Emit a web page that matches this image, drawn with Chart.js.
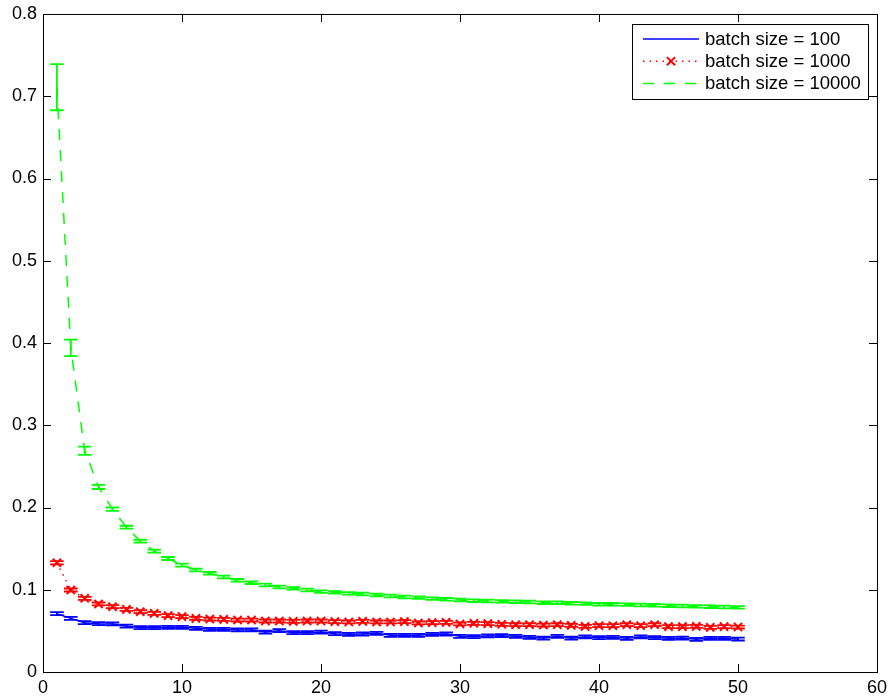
<!DOCTYPE html>
<html>
<head>
<meta charset="utf-8">
<title>batch size</title>
<script src="https://cdn.jsdelivr.net/npm/chart.js@4.4.1/dist/chart.umd.min.js"></script>
<style>
  body { margin: 0; background: #fff; }
  canvas { display: block; }
</style>
</head>
<body>
<canvas id="batch-canvas" width="891" height="698"></canvas>
<script>
const epochs = [1, 2, 3, 4, 5, 6, 7, 8, 9, 10, 11, 12, 13, 14, 15, 16, 17, 18, 19, 20,
  21, 22, 23, 24, 25, 26, 27, 28, 29, 30, 31, 32, 33, 34, 35, 36, 37, 38, 39, 40,
  41, 42, 43, 44, 45, 46, 47, 48, 49, 50]

const batch100 = [0.0709, 0.0652, 0.0600, 0.0588, 0.0584, 0.0559, 0.0539, 0.0539, 0.0543, 0.0543,
  0.0531, 0.0519, 0.0519, 0.0511, 0.0511, 0.0486, 0.0502, 0.0478, 0.0478, 0.0486,
  0.0466, 0.0458, 0.0462, 0.0470, 0.0446, 0.0446, 0.0446, 0.0458, 0.0462, 0.0434,
  0.0430, 0.0438, 0.0442, 0.0434, 0.0422, 0.0413, 0.0434, 0.0413, 0.0426, 0.0418,
  0.0422, 0.0409, 0.0426, 0.0418, 0.0409, 0.0413, 0.0397, 0.0409, 0.0409, 0.0401]
const err100 = [0.0018, 0.0018, 0.0018, 0.0018, 0.0018, 0.0018, 0.0018, 0.0018, 0.0018, 0.0018,
  0.0018, 0.0018, 0.0018, 0.0018, 0.0018, 0.0018, 0.0018, 0.0018, 0.0018, 0.0018,
  0.0018, 0.0018, 0.0018, 0.0018, 0.0018, 0.0018, 0.0018, 0.0018, 0.0018, 0.0018,
  0.0018, 0.0018, 0.0018, 0.0018, 0.0018, 0.0018, 0.0018, 0.0018, 0.0018, 0.0018,
  0.0018, 0.0018, 0.0018, 0.0018, 0.0018, 0.0018, 0.0018, 0.0018, 0.0018, 0.0018]

const batch1000 = [0.1329, 0.0997, 0.0896, 0.0827, 0.0794, 0.0762, 0.0733, 0.0713, 0.0685, 0.0673,
  0.0652, 0.0644, 0.0640, 0.0632, 0.0632, 0.0620, 0.0620, 0.0616, 0.0620, 0.0620,
  0.0612, 0.0608, 0.0616, 0.0608, 0.0608, 0.0612, 0.0596, 0.0600, 0.0604, 0.0584,
  0.0592, 0.0588, 0.0580, 0.0575, 0.0575, 0.0571, 0.0575, 0.0567, 0.0555, 0.0563,
  0.0563, 0.0575, 0.0563, 0.0575, 0.0551, 0.0551, 0.0555, 0.0543, 0.0551, 0.0547]
const err1000 = [0.0020, 0.0018, 0.0018, 0.0018, 0.0018, 0.0018, 0.0018, 0.0018, 0.0018, 0.0018,
  0.0018, 0.0018, 0.0018, 0.0018, 0.0018, 0.0018, 0.0018, 0.0018, 0.0018, 0.0018,
  0.0018, 0.0018, 0.0018, 0.0018, 0.0018, 0.0018, 0.0018, 0.0018, 0.0018, 0.0018,
  0.0018, 0.0018, 0.0018, 0.0018, 0.0018, 0.0018, 0.0018, 0.0018, 0.0018, 0.0018,
  0.0018, 0.0018, 0.0018, 0.0018, 0.0018, 0.0018, 0.0018, 0.0018, 0.0018, 0.0018]

const batch10000 = [0.711, 0.394, 0.269, 0.225, 0.198, 0.176, 0.159, 0.147, 0.138, 0.130,
  0.124, 0.120, 0.1155, 0.1115, 0.1086, 0.1058, 0.1033, 0.1017, 0.0997, 0.0977,
  0.0968, 0.0956, 0.0948, 0.0936, 0.0924, 0.0912, 0.0904, 0.0892, 0.0884, 0.0875,
  0.0867, 0.0863, 0.0859, 0.0855, 0.0851, 0.0843, 0.0843, 0.0835, 0.0831, 0.0823,
  0.0823, 0.0819, 0.0815, 0.0811, 0.0806, 0.0802, 0.0798, 0.0794, 0.0790, 0.0786]
const err10000 = [0.028, 0.010, 0.005, 0.0025, 0.002, 0.0018, 0.0018, 0.0018, 0.0018, 0.0018,
  0.0016, 0.0016, 0.0016, 0.0016, 0.0016, 0.0016, 0.0016, 0.0016, 0.0016, 0.0016,
  0.0016, 0.0016, 0.0016, 0.0016, 0.0016, 0.0016, 0.0016, 0.0016, 0.0016, 0.0016,
  0.0016, 0.0016, 0.0016, 0.0016, 0.0016, 0.0016, 0.0016, 0.0016, 0.0016, 0.0016,
  0.0016, 0.0016, 0.0016, 0.0016, 0.0016, 0.0016, 0.0016, 0.0016, 0.0016, 0.0016]

const seriesLabels = ['batch size = 100', 'batch size = 1000', 'batch size = 10000']

const FAMILY = "'Liberation Sans', Arial, sans-serif"
const TICK_FONT = { family: FAMILY, size: 18 }
const LEGEND_SIZE = 18.5
const capHalf = 0.49 // half width of error bar caps, x units
const tickLen = 8

const points = (vals) => vals.map((v, i) => ({ x: epochs[i], y: v }))

// error bars with caps, drawn in each dataset's colour
const errorBars = {
  id: 'errorBars',
  afterDatasetsDraw(chart) {
    const { ctx } = chart
    const x = chart.scales.x
    const y = chart.scales.y
    const a = chart.chartArea
    ctx.save()
    ctx.beginPath()
    ctx.rect(a.left, a.top, a.right - a.left, a.bottom - a.top)
    ctx.clip()
    chart.data.datasets.forEach((ds) => {
      ctx.strokeStyle = ds.borderColor
      ctx.lineWidth = 1.8
      ctx.setLineDash([])
      ctx.beginPath()
      ds.data.forEach((p, i) => {
        const e = ds.errors[i]
        const px = x.getPixelForValue(p.x)
        const lo = y.getPixelForValue(p.y - e)
        const hi = y.getPixelForValue(p.y + e)
        const l = x.getPixelForValue(p.x - capHalf)
        const r = x.getPixelForValue(p.x + capHalf)
        ctx.moveTo(px, lo)
        ctx.lineTo(px, hi)
        ctx.moveTo(l, lo)
        ctx.lineTo(r, lo)
        ctx.moveTo(l, hi)
        ctx.lineTo(r, hi)
      })
      ctx.stroke()
    })
    ctx.restore()
  },
}

// matlab style box with inward ticks on all four sides, plus the legend
const boxAxes = {
  id: 'boxAxes',
  afterDraw(chart) {
    const { ctx } = chart
    const a = chart.chartArea
    const x = chart.scales.x
    const y = chart.scales.y
    ctx.save()
    ctx.strokeStyle = '#000'
    ctx.lineWidth = 1
    ctx.setLineDash([])
    ctx.beginPath()
    x.ticks.forEach((t) => {
      const px = Math.round(x.getPixelForValue(t.value)) + 0.5
      ctx.moveTo(px, a.bottom)
      ctx.lineTo(px, a.bottom - tickLen)
      ctx.moveTo(px, a.top)
      ctx.lineTo(px, a.top + tickLen)
    })
    y.ticks.forEach((t) => {
      const py = Math.round(y.getPixelForValue(t.value)) + 0.5
      ctx.moveTo(a.left, py)
      ctx.lineTo(a.left + tickLen, py)
      ctx.moveTo(a.right, py)
      ctx.lineTo(a.right - tickLen, py)
    })
    ctx.stroke()
    ctx.strokeRect(Math.round(a.left) + 0.5, Math.round(a.top) + 0.5,
      Math.round(a.right - a.left), Math.round(a.bottom - a.top))

    // legend
    ctx.font = LEGEND_SIZE + 'px ' + FAMILY
    const textW = Math.max(...chart.data.datasets.map((d) => ctx.measureText(d.label).width))
    const sampleW = 56
    const rowH = 22.2
    const boxR = Math.round(a.right) - 9
    const boxT = Math.round(a.top) + 10
    const boxW = Math.round(11 + sampleW + 6 + textW + 7)
    const boxH = 75
    const boxL = boxR - boxW
    ctx.fillStyle = '#fff'
    ctx.fillRect(boxL, boxT, boxW, boxH)
    ctx.strokeRect(boxL + 0.5, boxT + 0.5, boxW, boxH)
    chart.data.datasets.forEach((d, i) => {
      const cy = boxT + 15 + i * rowH
      const sx = boxL + 11
      ctx.strokeStyle = d.borderColor
      ctx.lineWidth = d.borderWidth
      ctx.setLineDash(d.borderDash || [])
      ctx.beginPath()
      ctx.moveTo(sx, cy)
      ctx.lineTo(sx + sampleW, cy)
      ctx.stroke()
      ctx.setLineDash([])
      if (d.pointRadius > 0) {
        const mx = sx + sampleW / 2
        const m = d.pointRadius * Math.SQRT1_2
        ctx.lineWidth = d.pointBorderWidth
        ctx.beginPath()
        ctx.moveTo(mx - m, cy - m)
        ctx.lineTo(mx + m, cy + m)
        ctx.moveTo(mx - m, cy + m)
        ctx.lineTo(mx + m, cy - m)
        ctx.stroke()
      }
      ctx.fillStyle = '#000'
      ctx.textBaseline = 'middle'
      ctx.textAlign = 'left'
      ctx.fillText(d.label, sx + sampleW + 6, cy + 1)
    })
    ctx.restore()
  },
}

const batchChart = new Chart(document.getElementById('batch-canvas'), {
  type: 'line',
  data: {
    datasets: [
      {
        label: seriesLabels[0],
        data: points(batch100),
        errors: err100,
        borderColor: '#0000ff',
        borderWidth: 1.5,
        pointRadius: 0,
        tension: 0,
        fill: false,
      },
      {
        label: seriesLabels[1],
        data: points(batch1000),
        errors: err1000,
        borderColor: '#ff0000',
        borderWidth: 1.5,
        borderDash: [1.5, 5],
        pointStyle: 'crossRot',
        pointRadius: 5.8,
        pointBorderColor: '#ff0000',
        pointBorderWidth: 2,
        pointHoverRadius: 5.8,
        tension: 0,
        fill: false,
      },
      {
        label: seriesLabels[2],
        data: points(batch10000),
        errors: err10000,
        borderColor: '#00ff00',
        borderWidth: 1.5,
        borderDash: [11, 10],
        pointRadius: 0,
        tension: 0,
        fill: false,
      },
    ],
  },
  options: {
    responsive: false,
    animation: false,
    devicePixelRatio: 1,
    layout: { padding: { top: 14, right: 14, left: 0, bottom: 0 } },
    plugins: {
      legend: { display: false },
      tooltip: { enabled: false },
      title: { display: false },
    },
    scales: {
      x: {
        type: 'linear',
        min: 0,
        max: 60,
        grid: { display: false, drawTicks: false },
        border: { display: false },
        ticks: { stepSize: 10, color: '#000', font: TICK_FONT, padding: 5, maxRotation: 0 },
        afterFit: (s) => {
          s.height = 26
          s.paddingLeft = 0
          s.paddingRight = 0
        },
      },
      y: {
        min: 0,
        max: 0.8,
        grid: { display: false, drawTicks: false },
        border: { display: false },
        ticks: { stepSize: 0.1, color: '#000', font: TICK_FONT, padding: 6 },
        afterFit: (s) => {
          s.width = 43
          s.paddingTop = 0
          s.paddingBottom = 0
        },
      },
    },
  },
  plugins: [errorBars, boxAxes],
})
</script>
</body>
</html>
